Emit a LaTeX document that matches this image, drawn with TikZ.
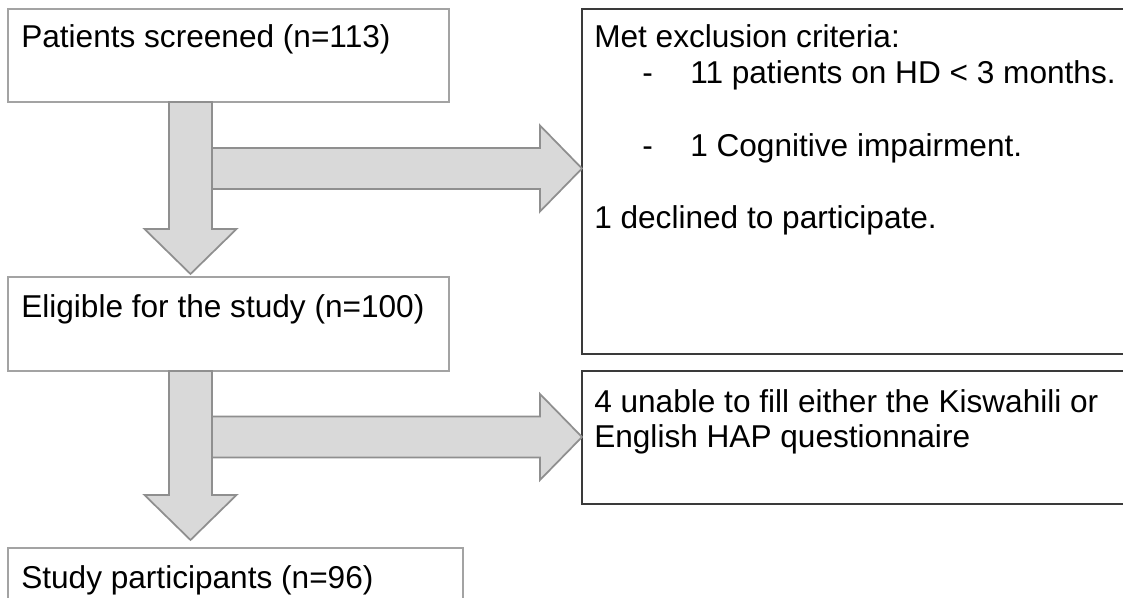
\documentclass[tikz,border=0pt]{standalone}
\usepackage{fontspec}
\setmainfont{Liberation Sans}
\usetikzlibrary{calc}
\definecolor{aFill}{HTML}{D9D9D9}
\definecolor{aLine}{HTML}{8F8F8F}
\definecolor{bLine}{HTML}{A3A3A3}
\definecolor{cLine}{HTML}{3A3A3A}
\newlength\px
\setlength\px{0.75pt}
\tikzset{
    lbox/.style={draw=bLine, line width=1.3pt, anchor=north west, inner sep=0pt, outer sep=0pt},
    rbox/.style={draw=cLine, line width=1.1pt, anchor=north west, inner sep=0pt, outer sep=0pt},
    txt/.style={anchor=base west, inner sep=0pt, font=\fontsize{23.7}{27}\selectfont},
    blk/.style={draw=aLine, fill=aFill, line width=1.3pt, line join=miter}
}
\newcommand{\vblock}[2]{%
  \draw[blk] let \p1=#1, \p2=#2 in
    (\x1-16.1pt,\y1) -- (\x1-16.1pt,\y2+33.75pt) -- (\x1-34.5pt,\y2+33.75pt) -- (\x2,\y2)
    -- (\x1+34.5pt,\y2+33.75pt) -- (\x1+16.1pt,\y2+33.75pt) -- (\x1+16.1pt,\y1) -- cycle;}
\newcommand{\hblock}[2]{%
  \draw[blk] let \p1=#1, \p2=#2 in
    (\x1,\y1+15.4pt) -- (\x2-31.5pt,\y1+15.4pt) -- (\x2-31.5pt,\y1+32.25pt) -- (\x2,\y2)
    -- (\x2-31.5pt,\y1-32.25pt) -- (\x2-31.5pt,\y1-15.4pt) -- (\x1,\y1-15.4pt) -- cycle;}

\begin{document}
\begin{tikzpicture}[x=0.75pt,y=-0.75pt]
\useasboundingbox (0,0) rectangle (1123,598);
\node[lbox,minimum width=441\px,minimum height=93\px]  (screen) at (  8,  9) {};
\node[lbox,minimum width=441\px,minimum height=94\px]  (elig)   at (  8,277) {};
\node[lbox,minimum width=455\px,minimum height=80\px]  (study)  at (  8,548) {};
\node[rbox,minimum width=570\px,minimum height=345\px] (excl)   at (582,  9) {};
\node[rbox,minimum width=570\px,minimum height=133\px] (hap)    at (582,371) {};

\coordinate (j1) at (212,168.5);
\coordinate (j2) at (212,437);
\hblock{(j1)}{(excl.west |- j1)}
\hblock{(j2)}{(hap.west |- j2)}
\vblock{(screen.south -| 190.5,0)}{([yshift=3\px]elig.north -| 190.5,0)}
\vblock{(elig.south -| 190.5,0)}{([yshift=8\px]study.north -| 190.5,0)}

\node[txt] (screenT) at ( 21, 48) {Patients screened (n=113)};
\node[txt] (eligT)   at ( 21,318) {Eligible for the study (n=100)};
\node[txt] (studyT)  at ( 21,588) {Study participants (n=96)};
\node[txt] (exclT)   at (594, 48) {Met exclusion criteria:};
\node[txt] (dashA)   at (642, 84) {-};
\node[txt] (exclA)   at (690, 84) {11 patients on HD < 3 months.};
\node[txt] (dashB)   at (642,157) {-};
\node[txt] (exclB)   at (690,157) {1 Cognitive impairment.};
\node[txt] (declT)   at (594,229) {1 declined to participate.};
\node[txt] (hapA)    at (594,412) {4 unable to fill either the Kiswahili or};
\node[txt] (hapB)    at (594,447) {English HAP questionnaire};
\end{tikzpicture}
\end{document}
